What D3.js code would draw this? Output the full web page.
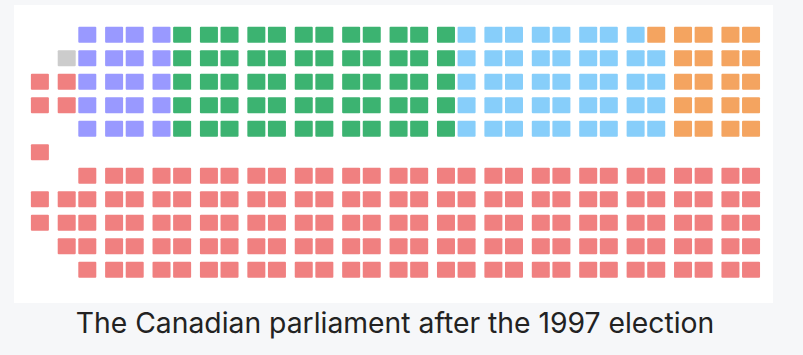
<!DOCTYPE html>
<html>
<head>
<meta charset="utf-8">
<script src="https://cdn.jsdelivr.net/npm/d3@7"></script>
<style>
  html, body { margin: 0; padding: 0; background: #f6f7f9; }
  svg { display: block; }
</style>
</head>
<body>
<div id="chart"></div>
<script>
// Seats per party, 1997 Canadian federal election
const parties = ['Liberal', 'Reform', 'Bloc Québécois', 'New Democratic', 'Progressive Conservative', 'Independent'];
const seats = [155, 60, 44, 21, 20, 1];
const colors = ['#f08080', '#3cb371', '#87cefa', '#f4a460', '#9999ff', '#cccccc'];
// left to right along the opposition benches
const oppositionOrder = ['Progressive Conservative', 'Reform', 'Bloc Québécois', 'New Democratic'];
const caption = 'The Canadian parliament after the 1997 election';

const W = 803, H = 355;
const panel = { x: 14, y: 5, w: 759, h: 298 };
const seatW = 18, seatH = 16;
const nPairs = 15;        // two-seat blocks per bench row
const benchRows = 5;      // rows on each side of the aisle

const seatCount = new Map(parties.map((p, i) => [p, seats[i]]));
const color = d3.scaleOrdinal().domain(parties).range(colors);

// grid scales: column blocks (pairs) and rows
const xPair = d3.scaleLinear().domain([0, nPairs - 1]).range([57.7, 57.7 + (nPairs - 1) * 47.41]);
const colInPair = 20.6;
const colX = g => xPair(Math.floor(g / 2)) + (((g % 2) + 2) % 2) * colInPair;
const y = d3.scaleLinear().domain([0, 2 * benchRows]).range([26.7, 261.7]);

// seat slots (g = column, r = row; aisle row = benchRows)
const nCols = 2 * nPairs - 1;  // bench columns g = 1 .. 29
const speakerSlot = { g: -1, r: benchRows };
const govSlots = [];
for (let g = 1; g <= nCols; g++) for (let r = benchRows + 1; r <= 2 * benchRows; r++) govSlots.push({ g, r });
// small blocks at the left end, mirrored about the aisle
const sideBlock = [[-1, 2], [-1, 3], [0, 2], [0, 3], [0, 4]];
sideBlock.forEach(([g, d]) => govSlots.push({ g, r: benchRows + d }));
const crossSlots = sideBlock.map(([g, d]) => ({ g, r: benchRows - d }));
const oppSlots = [];
for (let g = 1; g <= nCols; g++) for (let r = benchRows - 1; r >= 0; r--) oppSlots.push({ g, r });

const placed = [];
// government: speaker, then government benches, overflow to the opposite left block
let govLeft = seatCount.get('Liberal');
placed.push({ ...speakerSlot, party: 'Liberal' }); govLeft--;
govSlots.forEach(s => { if (govLeft > 0) { placed.push({ ...s, party: 'Liberal' }); govLeft--; } });
let ci = 0;
for (; govLeft > 0; govLeft--) placed.push({ ...crossSlots[ci++], party: 'Liberal' });
for (let k = 0; k < seatCount.get('Independent'); k++) placed.push({ ...crossSlots[ci++], party: 'Independent' });
// opposition benches
let oi = 0;
oppositionOrder.forEach(p => {
  for (let k = 0; k < seatCount.get(p); k++) placed.push({ ...oppSlots[oi++], party: p });
});

const svg = d3.select('#chart').append('svg')
  .attr('width', W).attr('height', H)
  .attr('viewBox', `0 0 ${W} ${H}`);

svg.append('rect').attr('width', W).attr('height', H).attr('fill', '#f6f7f9');
svg.append('rect')
  .attr('x', panel.x).attr('y', panel.y)
  .attr('width', panel.w).attr('height', panel.h)
  .attr('fill', '#ffffff');

svg.append('g').selectAll('rect')
  .data(placed)
  .join('rect')
  .attr('x', d => colX(d.g))
  .attr('y', d => y(d.r))
  .attr('width', seatW).attr('height', seatH)
  .attr('rx', 1)
  .attr('fill', d => color(d.party));

svg.append('text')
  .attr('x', 395).attr('y', 333)
  .attr('text-anchor', 'middle')
  .attr('font-family', 'Inter, "Noto Sans", sans-serif')
  .attr('font-size', '28.3px')
  .attr('fill', '#222222')
  .text(caption);
</script>
</body>
</html>
